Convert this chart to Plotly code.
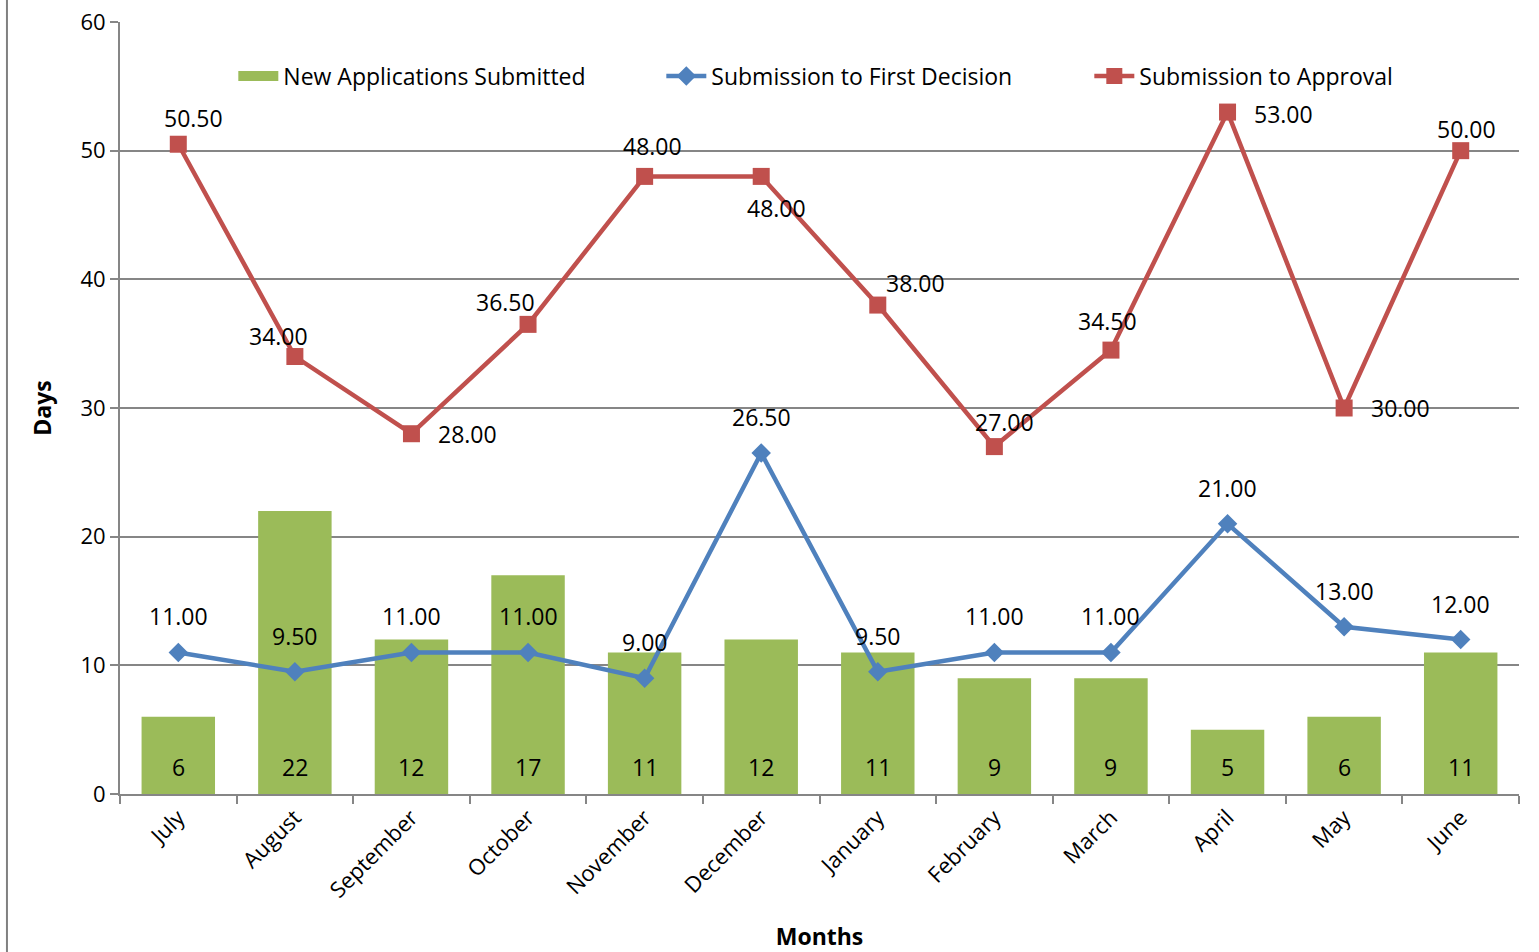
import plotly.graph_objects as go

months = ["July", "August", "September", "October", "November", "December",
          "January", "February", "March", "April", "May", "June"]
new_apps = [6, 22, 12, 17, 11, 12, 11, 9, 9, 5, 6, 11]
first_decision = [11.0, 9.5, 11.0, 11.0, 9.0, 26.5, 9.5, 11.0, 11.0, 21.0, 13.0, 12.0]
approval = [50.5, 34.0, 28.0, 36.5, 48.0, 48.0, 38.0, 27.0, 34.5, 53.0, 30.0, 50.0]

# label offsets (pixels) for the approval series labels
appr_dx = [15, -16, 56, -23, 8, 15, 38, 10, -3, 56, 56, 6]
appr_dy = [26, 21, 0, 22, 30, -32, 22, 25, 29, -2, 0, 22]

GREEN = "#9BBB59"
BLUE = "#4F81BD"
RED = "#C0504D"
GRID = "#868686"
FONT = "Open Sans"
FS = 23

fig = go.Figure()
fig.add_trace(go.Bar(x=months, y=new_apps, name="New Applications Submitted",
                     marker=dict(color=GREEN, line=dict(width=0)), showlegend=False))
# legend entry for the bars (drawn as a wide block like the original)
fig.add_trace(go.Scatter(x=[None], y=[None], name="New Applications Submitted",
                         mode="lines", line=dict(color=GREEN, width=16)))
fig.add_trace(go.Scatter(x=months, y=first_decision, name="Submission to First Decision",
                         mode="lines+markers", line=dict(color=BLUE, width=4.5),
                         marker=dict(symbol="diamond", size=15, color=BLUE)))
fig.add_trace(go.Scatter(x=months, y=approval, name="Submission to Approval",
                         mode="lines+markers", line=dict(color=RED, width=4.5),
                         marker=dict(symbol="square", size=17, color=RED)))

ann = []
for m, v in zip(months, new_apps):
    ann.append(dict(x=m, y=0, text=str(v), showarrow=False, yshift=27,
                    yanchor="middle", font=dict(family=FONT, size=FS, color="black")))
for m, v in zip(months, first_decision):
    ann.append(dict(x=m, y=v, text=f"{v:.2f}", showarrow=False, yshift=36,
                    yanchor="middle", font=dict(family=FONT, size=FS, color="black")))
for m, v, dx, dy in zip(months, approval, appr_dx, appr_dy):
    ann.append(dict(x=m, y=v, text=f"{v:.2f}", showarrow=False, xshift=dx, yshift=dy,
                    yanchor="middle", font=dict(family=FONT, size=FS, color="black")))

fig.update_layout(
    width=1539, height=952,
    margin=dict(l=120, r=20, t=22, b=158),
    paper_bgcolor="white", plot_bgcolor="white",
    font=dict(family=FONT, size=FS, color="black"),
    bargap=0.37,
    showlegend=True,
    legend=dict(orientation="h", x=0.081, y=0.93, xanchor="left", yanchor="middle",
                font=dict(family=FONT, size=FS), bgcolor="rgba(0,0,0,0)",
                entrywidth=373, itemwidth=40),
    annotations=ann,
    shapes=[dict(type="line", xref="paper", yref="paper", x0=-0.0808, x1=-0.0808,
                 y0=-0.21, y1=1.03, line=dict(color="#808080", width=2))],
    xaxis=dict(
        title=dict(text="<b>Months</b>", font=dict(family=FONT, size=23), standoff=28),
        range=[-0.5, 11.5], automargin=False,
        tickangle=-45, showline=True, linecolor=GRID, linewidth=2,
        ticks="outside", tickson="boundaries", ticklen=8, tickcolor=GRID, tickwidth=2,
        showgrid=False, tickfont=dict(family=FONT, size=22),
    ),
    yaxis=dict(
        title=dict(text="<b>Days</b>", font=dict(family=FONT, size=23), standoff=22),
        range=[0, 60], dtick=10, showline=True, linecolor=GRID, linewidth=2,
        automargin=False,
        ticks="outside", ticklen=8, tickcolor=GRID, tickwidth=2,
        showgrid=True, gridcolor=GRID, gridwidth=1.5, zeroline=False,
        tickfont=dict(family=FONT, size=22),
    ),
)

fig.write_html("out.html")
